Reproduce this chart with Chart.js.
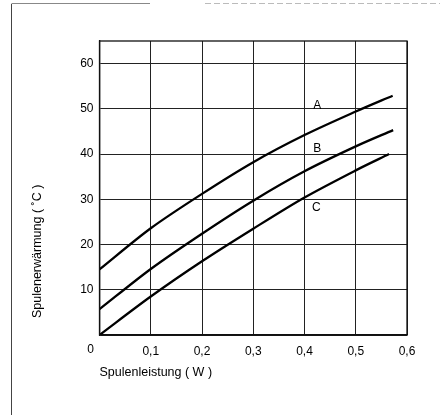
<!DOCTYPE html>
<html>
<head>
<meta charset="utf-8">
<script src="https://cdn.jsdelivr.net/npm/chart.js@4/dist/chart.umd.min.js"></script>
<style>
html,body{margin:0;padding:0;background:#fff;}
#wrap{width:440px;height:415px;position:relative;}
</style>
</head>
<body>
<div id="wrap"><canvas id="c" width="440" height="415"></canvas></div>
<script>
// ---- data ----
const xA = [0, 0.1, 0.2, 0.3, 0.4, 0.5, 0.572];
const yA = [14.5, 23.6, 31.2, 38.2, 44.2, 49.4, 52.9];
const xB = [0, 0.1, 0.2, 0.3, 0.4, 0.5, 0.573];
const yB = [5.7, 14.6, 22.4, 29.7, 36.2, 41.7, 45.3];
const xC = [0, 0.1, 0.2, 0.3, 0.4, 0.5, 0.565];
const yC = [0, 8.5, 16.3, 23.5, 30.4, 36.4, 40.0];
const curveNames = ['A', 'B', 'C'];
const labelX = [0.425, 0.425, 0.423];
const labelY = [50.7, 41.2, 28.2];
const xTicks = [0, 0.1, 0.2, 0.3, 0.4, 0.5, 0.6];
const xTickLabels = ['', '0,1', '0,2', '0,3', '0,4', '0,5', '0,6'];
const originLabel = '0';
const yTicks = [0, 10, 20, 30, 40, 50, 60];
const yTickLabels = ['', '10', '20', '30', '40', '50', '60'];
const xTitle = 'Spulenleistung ( W )';
const yTitle = 'Spulenerwärmung ( ˚C )';

const FONT = '"Liberation Sans", Arial, Helvetica, sans-serif';
const pts = (xs, ys) => xs.map((x, i) => ({x: x, y: ys[i]}));

const lineStyle = {
  borderColor: '#000', borderWidth: 2.3, pointRadius: 0, fill: false,
  tension: 0.3
};

const decor = {
  id: 'decor',
  afterDraw(chart) {
    const ctx = chart.ctx, ca = chart.chartArea;
    const xs = chart.scales.x, ys = chart.scales.y;
    ctx.save();
    // plot frame
    ctx.strokeStyle = '#111'; ctx.lineWidth = 1.3;
    ctx.strokeRect(ca.left, ca.top, ca.right - ca.left, ca.bottom - ca.top);
    // outer page frame (scan edge)
    ctx.strokeStyle = '#444'; ctx.lineWidth = 1;
    ctx.beginPath(); ctx.moveTo(11.5, 4); ctx.lineTo(11.5, 415); ctx.stroke();
    ctx.strokeStyle = '#888';
    ctx.beginPath(); ctx.moveTo(11.5, 3.5); ctx.lineTo(150, 3.5); ctx.stroke();
    ctx.setLineDash([6, 3]); ctx.strokeStyle = '#bbb';
    ctx.beginPath(); ctx.moveTo(205, 3.5); ctx.lineTo(440, 3.5); ctx.stroke();
    ctx.setLineDash([]);
    ctx.fillStyle = '#000';
    // origin label
    ctx.font = '12px ' + FONT;
    ctx.textAlign = 'center'; ctx.textBaseline = 'middle';
    ctx.fillText(originLabel, xs.getPixelForValue(0) - 9, 350);
    // curve labels
    curveNames.forEach((n, i) => {
      ctx.fillText(n, xs.getPixelForValue(labelX[i]), ys.getPixelForValue(labelY[i]));
    });
    // axis titles
    ctx.font = '12.5px ' + FONT;
    ctx.textAlign = 'left'; ctx.textBaseline = 'middle';
    ctx.fillText(xTitle, ca.left, 373);
    ctx.translate(38, 318);
    ctx.rotate(-Math.PI / 2);
    ctx.font = '12.5px ' + FONT;
    ctx.fillText(yTitle, 0, 0);
    ctx.restore();
  }
};

new Chart(document.getElementById('c'), {
  type: 'line',
  data: {
    datasets: [
      Object.assign({label: 'A', data: pts(xA, yA)}, lineStyle),
      Object.assign({label: 'B', data: pts(xB, yB)}, lineStyle),
      Object.assign({label: 'C', data: pts(xC, yC)}, lineStyle)
    ]
  },
  options: {
    responsive: false,
    animation: false,
    events: [],
    layout: {padding: {top: 41, right: 33, left: 0, bottom: 0}},
    plugins: {legend: {display: false}, tooltip: {enabled: false}},
    scales: {
      x: {
        type: 'linear', min: 0, max: 0.6,
        afterBuildTicks: s => { s.ticks = xTicks.map(v => ({value: v})); },
        afterFit: s => { s.height = 80; },
        grid: {color: '#222', lineWidth: 1, drawTicks: false},
        border: {color: '#111', width: 1.3},
        ticks: {
          padding: 9, color: '#000', maxRotation: 0,
          font: {family: FONT, size: 12},
          callback: (v, i) => xTickLabels[i]
        }
      },
      y: {
        type: 'linear', min: 0, max: 65,
        afterBuildTicks: s => { s.ticks = yTicks.map(v => ({value: v})); },
        afterFit: s => { s.width = 99.5; },
        grid: {color: '#222', lineWidth: 1, drawTicks: false},
        border: {color: '#111', width: 1.3},
        ticks: {
          padding: 6, color: '#000',
          font: {family: FONT, size: 12},
          callback: (v, i) => yTickLabels[i]
        }
      }
    }
  },
  plugins: [decor]
});
</script>
</body>
</html>
